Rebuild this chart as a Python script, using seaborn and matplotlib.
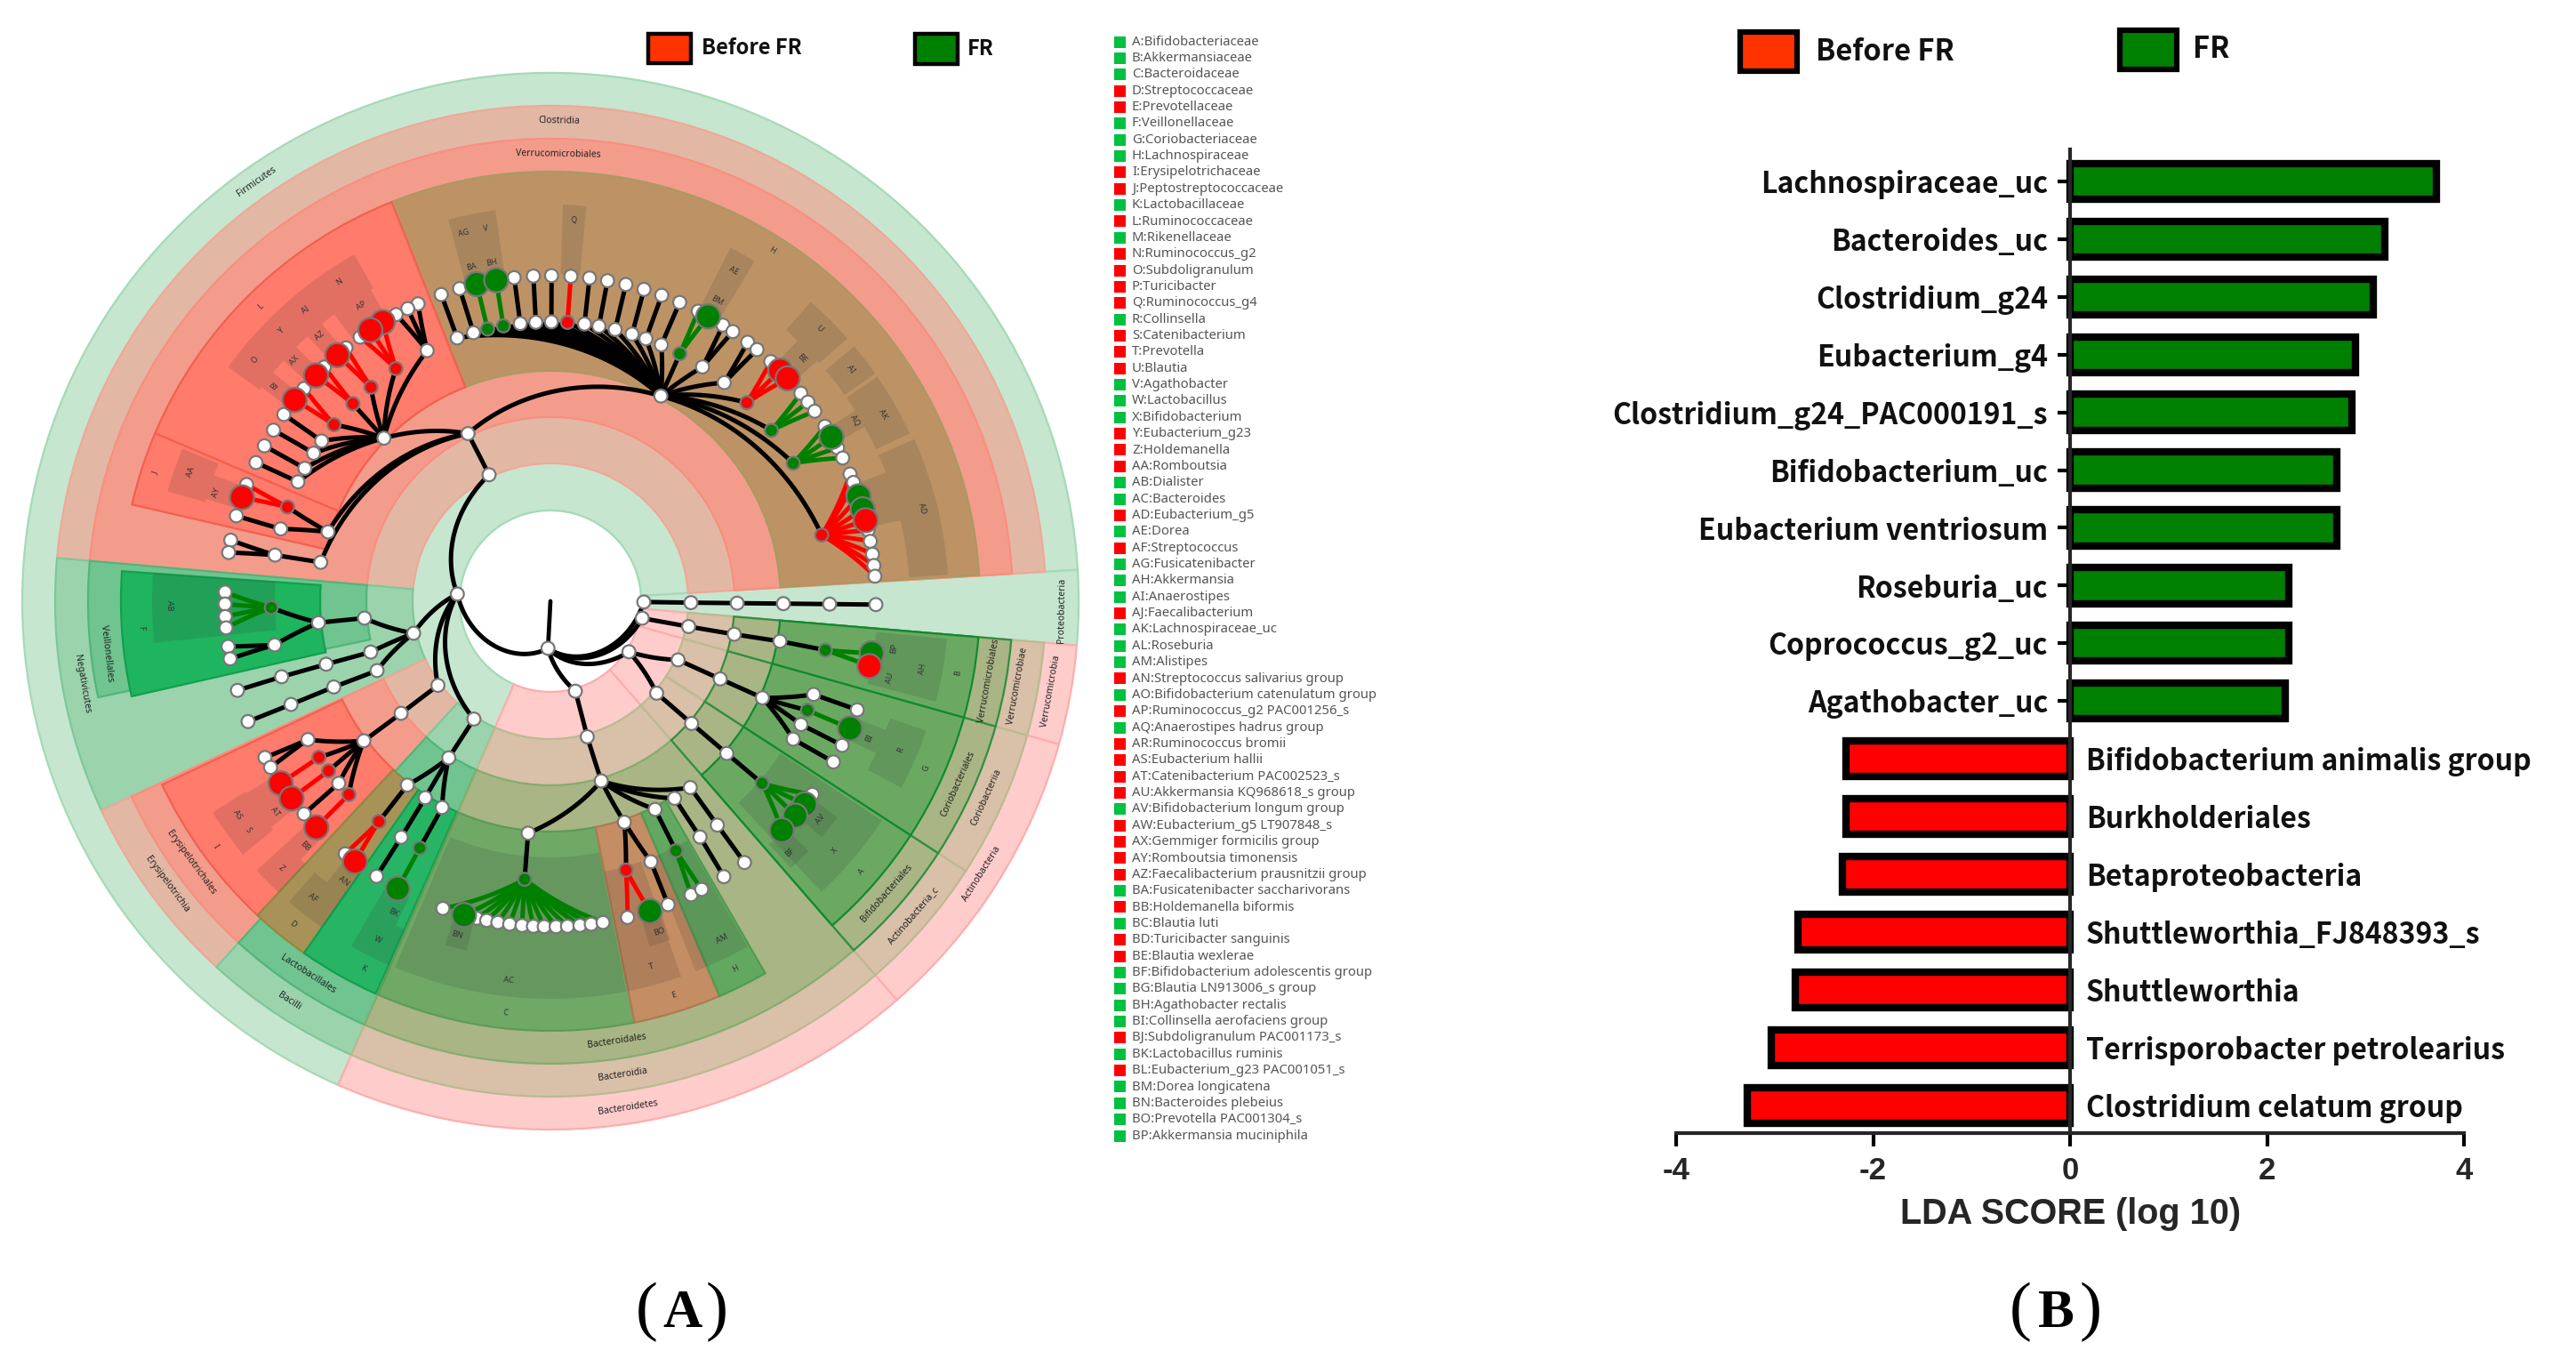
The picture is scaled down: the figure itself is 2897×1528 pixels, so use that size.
import numpy as np
import pandas as pd
import seaborn as sns
import matplotlib
matplotlib.use("Agg")
import matplotlib.pyplot as plt
from matplotlib.patches import Rectangle, Wedge
from matplotlib.transforms import Affine2D

# ================= BAR PANEL DATA =================

fr_taxa = ["Lachnospiraceae_uc", "Bacteroides_uc", "Clostridium_g24", "Eubacterium_g4",
           "Clostridium_g24_PAC000191_s", "Bifidobacterium_uc", "Eubacterium ventriosum",
           "Roseburia_uc", "Coprococcus_g2_uc", "Agathobacter_uc"]
fr_scores = [3.72, 3.20, 3.08, 2.90, 2.86, 2.71, 2.71, 2.22, 2.22, 2.18]

before_taxa = ["Bifidobacterium animalis group", "Burkholderiales", "Betaproteobacteria",
               "Shuttleworthia_FJ848393_s", "Shuttleworthia", "Terrisporobacter petrolearius",
               "Clostridium celatum group"]
before_scores = [-2.28, -2.28, -2.31, -2.76, -2.79, -3.03, -3.28]

x_ticks = [-4, -2, 0, 2, 4]

# ================= KEY DATA =================

key_names = [
    "A:Bifidobacteriaceae", "B:Akkermansiaceae", "C:Bacteroidaceae", "D:Streptococcaceae",
    "E:Prevotellaceae", "F:Veillonellaceae", "G:Coriobacteriaceae", "H:Lachnospiraceae",
    "I:Erysipelotrichaceae", "J:Peptostreptococcaceae", "K:Lactobacillaceae", "L:Ruminococcaceae",
    "M:Rikenellaceae", "N:Ruminococcus_g2", "O:Subdoligranulum", "P:Turicibacter",
    "Q:Ruminococcus_g4", "R:Collinsella", "S:Catenibacterium", "T:Prevotella", "U:Blautia",
    "V:Agathobacter", "W:Lactobacillus", "X:Bifidobacterium", "Y:Eubacterium_g23", "Z:Holdemanella",
    "AA:Romboutsia", "AB:Dialister", "AC:Bacteroides", "AD:Eubacterium_g5", "AE:Dorea",
    "AF:Streptococcus", "AG:Fusicatenibacter", "AH:Akkermansia", "AI:Anaerostipes",
    "AJ:Faecalibacterium", "AK:Lachnospiraceae_uc", "AL:Roseburia", "AM:Alistipes",
    "AN:Streptococcus salivarius group", "AO:Bifidobacterium catenulatum group",
    "AP:Ruminococcus_g2 PAC001256_s", "AQ:Anaerostipes hadrus group", "AR:Ruminococcus bromii",
    "AS:Eubacterium hallii", "AT:Catenibacterium PAC002523_s", "AU:Akkermansia KQ968618_s group",
    "AV:Bifidobacterium longum group", "AW:Eubacterium_g5 LT907848_s", "AX:Gemmiger formicilis group",
    "AY:Romboutsia timonensis", "AZ:Faecalibacterium prausnitzii group",
    "BA:Fusicatenibacter saccharivorans", "BB:Holdemanella biformis", "BC:Blautia luti",
    "BD:Turicibacter sanguinis", "BE:Blautia wexlerae", "BF:Bifidobacterium adolescentis group",
    "BG:Blautia LN913006_s group", "BH:Agathobacter rectalis", "BI:Collinsella aerofaciens group",
    "BJ:Subdoligranulum PAC001173_s", "BK:Lactobacillus ruminis", "BL:Eubacterium_g23 PAC001051_s",
    "BM:Dorea longicatena", "BN:Bacteroides plebeius", "BO:Prevotella PAC001304_s",
    "BP:Akkermansia muciniphila",
]
key_groups = "gggrrgggrrgrgrrrrgrrrgggrrrggrgrgggrgggrgrgrrrrgrrrrgrgrrggggrgrgggg"

# ================= CLADOGRAM DATA (angles in degrees) =================

phyla = [("Firmicutes", 175.6), ("Bacteroidetes", -74.5), ("Actinobacteria", -32.8),
         ("Verrucomicrobia", -10.5), ("Proteobacteria", -0.5)]

classes = [("Clostridia", "Firmicutes", 115.9), ("Negativicutes", "Firmicutes", 193.2),
           ("Erysipelotrichia", "Firmicutes", 216.8), ("Bacilli", "Firmicutes", 237.0),
           ("Bacteroidia", "Bacteroidetes", -74.8), ("Actinobacteria_c", "Actinobacteria", -40.9),
           ("Coriobacteriia", "Actinobacteria", -24.7), ("Verrucomicrobiae", "Verrucomicrobia", -10.4),
           ("Betaproteobacteria", "Proteobacteria", -0.6)]

orders = [("Clostridiales", "Clostridia", 116.2), ("Veillonellales", "Negativicutes", 185.2),
          ("Negativi_o2", "Negativicutes", 195.8), ("Negativi_o3", "Negativicutes", 201.8),
          ("Erysipelotrichales", "Erysipelotrichia", 216.9), ("Lactobacillales", "Bacilli", 237.0),
          ("Bacteroidales", "Bacteroidia", -74.2), ("Bifidobacteriales", "Actinobacteria_c", -40.9),
          ("Coriobacteriales", "Coriobacteriia", -24.6), ("Verrucomicrobiales", "Verrucomicrobiae", -10.2),
          ("Burkholderiales", "Betaproteobacteria", -0.6)]

families = [("Lachnospiraceae", "Clostridiales", 61.7), ("Ruminococcaceae", "Clostridiales", 135.6),
            ("Peptostreptococcaceae", "Clostridiales", 162.7), ("Clostridiaceae", "Clostridiales", 170.4),
            ("Veillonellaceae", "Veillonellales", 185.3), ("Negativi_f2", "Negativi_o2", 195.7),
            ("Negativi_f3", "Negativi_o3", 201.6), ("Erysipelotrichaceae", "Erysipelotrichales", 216.8),
            ("Streptococcaceae", "Lactobacillales", 232.1), ("Carnobacteriaceae", "Lactobacillales", 237.5),
            ("Lactobacillaceae", "Lactobacillales", 242.3), ("Bacteroidaceae", "Bacteroidales", -95.5),
            ("Prevotellaceae", "Bacteroidales", -71.5), ("Rikenellaceae", "Bacteroidales", -63.3),
            ("Porphyromonadaceae", "Bacteroidales", -57.8), ("Barnesiellaceae", "Bacteroidales", -53.1),
            ("Bifidobacteriaceae", "Bifidobacteriales", -40.8), ("Coriobacteriaceae", "Coriobacteriales", -24.5),
            ("Akkermansiaceae", "Verrucomicrobiales", -9.9), ("Sutterellaceae", "Burkholderiales", -0.6)]

# family, genus angle, genus state, species angles
genera = [
    ("Lachnospiraceae", 109.5, "w", [109.6]), ("Lachnospiraceae", 106.0, "w", [106.2]),
    ("Lachnospiraceae", 103.0, "g", [103.1]), ("Lachnospiraceae", 99.7, "g", [99.6]),
    ("Lachnospiraceae", 96.2, "w", [96.4]), ("Lachnospiraceae", 93.0, "w", [93.0]),
    ("Lachnospiraceae", 89.8, "w", [89.8]), ("Lachnospiraceae", 86.5, "r", [86.4]),
    ("Lachnospiraceae", 83.0, "w", [83.1]), ("Lachnospiraceae", 80.0, "w", [79.9]),
    ("Lachnospiraceae", 76.6, "w", [76.6]), ("Lachnospiraceae", 73.0, "w", [73.3]),
    ("Lachnospiraceae", 70.0, "w", [70.0]), ("Lachnospiraceae", 66.6, "w", [66.6]),
    ("Lachnospiraceae", 62.4, "g", [63.0, 61.0]), ("Lachnospiraceae", 57.0, "w", [58.0, 55.9]),
    ("Lachnospiraceae", 51.5, "w", [52.7, 50.6]), ("Lachnospiraceae", 45.3, "r", [47.4, 45.1, 43.2]),
    ("Lachnospiraceae", 37.7, "g", [39.7, 37.7, 35.7]),
    ("Lachnospiraceae", 29.6, "g", [32.5, 30.3, 28.1, 26.1]),
    ("Lachnospiraceae", 13.7, "r", [23.0, 21.4, 18.8, 16.4, 14.4, 12.6, 10.6, 8.3, 6.3, 4.4]),
    ("Ruminococcaceae", 116.2, "w", [114.0, 116.0, 118.3]), ("Ruminococcaceae", 123.6, "r", [121.0, 123.6, 125.8]),
    ("Ruminococcaceae", 130.0, "r", [128.9, 130.9]), ("Ruminococcaceae", 135.0, "r", [134.0, 136.1]),
    ("Ruminococcaceae", 140.8, "r", [139.2, 141.8]), ("Ruminococcaceae", 145.0, "w", [145.0]),
    ("Ruminococcaceae", 148.0, "w", [148.3]), ("Ruminococcaceae", 151.6, "w", [151.5]),
    ("Ruminococcaceae", 154.7, "w", [154.8]),
    ("Peptostreptococcaceae", 160.3, "r", [159.0, 161.4]), ("Peptostreptococcaceae", 165.0, "w", [164.8]),
    ("Clostridiaceae", 170.5, "w", [169.2, 171.4]),
    ("Veillonellaceae", 181.3, "g", [178.4, 180.5, 182.7, 184.7]), ("Veillonellaceae", 189.0, "w", [188.0, 190.2]),
    ("Negativi_f2", 195.7, "w", [195.9]), ("Negativi_f3", 201.7, "w", [201.7]),
    ("Erysipelotrichaceae", 209.7, "w", [208.7, 210.7]), ("Erysipelotrichaceae", 214.0, "r", [214.0]),
    ("Erysipelotrichaceae", 217.4, "r", [217.3]), ("Erysipelotrichaceae", 220.7, "w", [220.8]),
    ("Erysipelotrichaceae", 223.8, "r", [224.0]),
    ("Streptococcaceae", 232.1, "r", [230.9, 233.1]), ("Carnobacteriaceae", 237.7, "w", [237.7]),
    ("Lactobacillaceae", 242.1, "g", [242.0]),
    ("Bacteroidaceae", -95.3, "g", [250.7, 254.6, 256.9, 258.7, 260.7, 262.8, 265.0, 267.0, 268.9,
                                    271.0, 273.0, 275.2, 277.2, 279.3]),
    ("Prevotellaceae", -74.3, "r", [-76.3, -72.2]), ("Prevotellaceae", -68.9, "w", [-68.8]),
    ("Rikenellaceae", -63.3, "g", [-64.4, -62.3]), ("Porphyromonadaceae", -57.6, "w", [-57.8]),
    ("Barnesiellaceae", -53.3, "w", [-53.4]),
    ("Bifidobacteriaceae", -40.7, "g", [-36.4, -38.6, -41.2, -44.7]),
    ("Coriobacteriaceae", -19.5, "w", [-19.5]), ("Coriobacteriaceae", -23.0, "g", [-23.0]),
    ("Coriobacteriaceae", -26.2, "w", [-26.3]), ("Coriobacteriaceae", -29.6, "w", [-29.6]),
    ("Akkermansiaceae", -10.1, "g", [-9.2, -11.5]), ("Sutterellaceae", -0.6, "w", [-0.6]),
]

big_green = [103.1, 99.6, 61.0, 30.3, 18.8, 16.4, -9.2, -38.6, -41.2, -44.7, 254.6, -72.2, 242.0, -23.0]
big_red = [121.0, 123.6, 130.9, 136.1, 141.8, 161.4, 45.1, 43.2, 14.4, 214.0, 217.3, 224.0, 233.1, -11.5]

# a0, a1, colour, boundary colour
phylum_sectors = [(3.4, 246.3, "#c6e6d0", "#a5dab6"), (-4.8, 3.4, "#c6e6d0", "#a5dab6"),
                  (246.3, 311.0, "#ffcccc", "#ffacac"), (-49.0, -15.7, "#ffcccc", "#ffacac"),
                  (-15.7, -4.8, "#ffcccc", "#ffacac")]
class_sectors = [(3.4, 175.0, "#e2b8a5", "#f0a897"), (175.0, 205.0, "#9bd3ad", "#7fc798"),
                 (205.0, 227.6, "#e2b8a5", "#f0a897"), (227.6, 246.3, "#9bd3ad", "#7fc798"),
                 (246.3, 311.0, "#d9c0a8", "#b9bb90"), (-49.0, -33.0, "#d9c0a8", "#b9bb90"),
                 (-33.0, -15.7, "#d9c0a8", "#b9bb90"), (-15.7, -4.8, "#d9c0a8", "#b9bb90")]
order_sectors = [(3.4, 175.0, "#f49c8b", "#f98f7e"), (175.0, 192.0, "#6fc48f", "#50b679"),
                 (205.0, 227.6, "#f49c8b", "#f98f7e"), (227.6, 246.3, "#6fc48f", "#50b679"),
                 (246.3, 311.0, "#a9b584", "#84ad70"), (-49.0, -33.0, "#a9b584", "#2f8f3f"),
                 (-33.0, -15.7, "#a9b584", "#2f8f3f"), (-15.7, -4.8, "#a9b584", "#2f8f3f")]
family_sectors = [(3.5, 111.7, "#bd9366", "#a99a62"), (111.7, 157.0, "#ff7b6c", "#f2604f"),
                  (157.0, 167.0, "#ff7b6c", "#f2604f"), (176.0, 192.8, "#1fb45e", "#12a04e"),
                  (205.3, 227.0, "#ff7b6c", "#f2604f"), (227.0, 235.0, "#a89258", "#8f8a40"),
                  (235.0, 246.0, "#28b465", "#12a04e"), (246.3, 281.3, "#70a866", "#5c9c58"),
                  (281.3, 293.2, "#c48d63", "#b07a50"), (293.2, 300.0, "#62a860", "#4f9c50"),
                  (-49.0, -33.0, "#6ba963", "#0f8a2f"), (-33.0, -15.7, "#6ba963", "#0f8a2f"),
                  (-15.7, -4.8, "#6ba963", "#0f8a2f")]

# a0, a1, r0, r1
taxon_blocks = [(101.5, 105.0, 404, 444), (98.0, 101.5, 404, 444), (101.5, 105.0, 368, 404), (98.0, 101.5, 368, 404),
                (84.8, 88.2, 368, 446), (59.0, 63.0, 368, 404), (59.0, 63.0, 404, 446), (41.5, 49.0, 404, 446),
                (42.0, 46.5, 368, 404), (35.0, 40.0, 404, 446), (25.0, 34.5, 404, 446), (29.0, 32.0, 368, 404),
                (3.8, 24.0, 404, 448), (13.0, 21.0, 368, 404), (119.5, 127.5, 404, 448), (127.5, 133.0, 404, 448),
                (133.0, 138.5, 404, 448), (138.5, 144.0, 404, 448), (120.0, 124.0, 368, 404), (124.0, 127.0, 368, 404),
                (129.5, 132.5, 368, 404), (135.0, 138.0, 368, 404), (140.5, 143.5, 368, 404), (157.5, 164.0, 404, 448),
                (159.5, 163.5, 368, 404), (176.0, 186.0, 310, 448), (212.0, 216.0, 404, 448), (216.0, 219.5, 404, 448),
                (222.5, 227.0, 404, 448), (212.3, 216.0, 368, 404), (216.0, 219.0, 368, 404), (222.5, 226.0, 368, 404),
                (229.0, 235.0, 404, 448), (231.5, 235.0, 368, 404), (240.0, 246.0, 404, 448), (240.0, 244.5, 368, 404),
                (247.0, 281.0, 288, 447), (253.0, 256.5, 368, 404), (-78.8, -70.8, 310, 447), (-74.0, -70.5, 368, 404),
                (-68.6, -60.3, 310, 447), (-47.0, -33.5, 310, 447), (-48.0, -44.0, 368, 404), (-41.0, -37.0, 368, 404),
                (-28.0, -19.0, 404, 447), (-25.0, -21.0, 368, 404), (-14.6, -5.4, 404, 448), (-10.0, -5.4, 368, 404),
                (-14.6, -10.0, 368, 404)]

# text, angle, radius
band_labels = [("Firmicutes", 125.0, 576), ("Clostridia", 89.0, 540), ("Verrucomicrobiales", 89.0, 503),
               ("Negativicutes", 190.0, 535), ("Veillonellales", 186.7, 502), ("Erysipelotrichia", 216.4, 536),
               ("Erysipelotrichales", 216.0, 500), ("Lactobacillales", 237.0, 500), ("Bacilli", 236.8, 537),
               ("Bacteroidales", -81.4, 500), ("Bacteroidia", -81.3, 538), ("Bacteroidetes", -81.3, 576),
               ("Bifidobacteriales", -41.0, 501), ("Actinobacteria_c", -40.9, 540), ("Actinobacteria", -32.3, 574),
               ("Coriobacteriales", -24.1, 502), ("Coriobacteriia", -24.2, 538), ("Verrucomicrobiales", -10.3, 501),
               ("Verrucomicrobiae", -10.3, 534), ("Verrucomicrobia", -10.2, 572), ("Proteobacteria", -1.0, 575)]

letter_labels = [("AG", 103.3, 425), ("V", 99.8, 425), ("BA", 103.3, 386), ("BH", 99.8, 386), ("Q", 86.5, 430),
                 ("AE", 61.0, 425), ("BM", 61.0, 386), ("U", 45.4, 430), ("BE", 44.0, 393), ("AI", 37.7, 427),
                 ("AK", 29.3, 429), ("AQ", 30.7, 398), ("AD", 14.0, 431), ("H", 57.7, 467), ("L", 134.5, 465),
                 ("N", 123.5, 431), ("AP", 122.6, 394), ("AJ", 130.0, 429), ("AZ", 131.0, 395), ("Y", 135.0, 429),
                 ("AX", 136.8, 395), ("O", 140.7, 429), ("BJ", 142.0, 394), ("J", 162.0, 467), ("AA", 160.3, 430),
                 ("AY", 162.0, 395), ("F", 183.7, 461), ("AB", 180.7, 428), ("I", 216.2, 466), ("Z", 224.8, 426),
                 ("BB", 224.9, 390), ("AS", 214.3, 426), ("S", 217.1, 426), ("AT", 217.4, 390), ("D", 231.4, 465),
                 ("AF", 231.2, 427), ("AN", 233.6, 391), ("K", 243.0, 464), ("W", 243.0, 427), ("BK", 243.3, 392),
                 ("C", 263.8, 465), ("AC", 263.7, 429), ("BN", 254.4, 390), ("E", -72.6, 464), ("T", -74.6, 426),
                 ("BO", -71.7, 391), ("H", -63.3, 463), ("AM", -63.0, 426), ("A", -41.0, 464), ("X", -41.2, 425),
                 ("BF", -46.4, 390), ("AV", -39.0, 390), ("G", -24.0, 463), ("R", -23.0, 428), ("BI", -23.3, 390),
                 ("B", -10.0, 465), ("AH", -10.3, 425), ("BP", -7.8, 390), ("AU", -12.7, 391)]

level_radius = {"root": 53, "phylum": 105, "class": 158, "order": 210, "family": 262, "genus": 314, "species": 366}

# ================= FIGURE =================

sns.set_theme(style="white")
plt.rcParams["font.family"] = ["Noto Sans", "DejaVu Sans"]
bold_font = ["Noto Sans CJK KR", "DejaVu Sans"]

W, H = 2897, 1528
fig = plt.figure(figsize=(W / 100 + 0.001, H / 100 + 0.001), dpi=100, facecolor="white")
pix = Affine2D().scale(1, -1).translate(0, H)

# ================= CLADOGRAM =================

cx, cy = 619, 676
ax_tree = fig.add_axes([0, 0, 1700 / W, 1])
ax_tree.set_xlim(-cx, 1700 - cx)
ax_tree.set_ylim(cy - H, cy)
ax_tree.axis("off")


def polar(angle, radius):
    rad = np.deg2rad(angle)
    return radius * np.cos(rad), radius * np.sin(rad)


def draw_sectors(rows, r0, r1):
    for a0, a1, color, edge in rows:
        ax_tree.add_patch(Wedge((0, 0), r1, a0, a1, width=r1 - r0, facecolor=color, edgecolor=edge, linewidth=1.6))


draw_sectors(phylum_sectors, 102, 594)
draw_sectors(class_sectors, 155, 557)
draw_sectors(order_sectors, 207, 520)
draw_sectors(family_sectors, 259, 483)

for a0, a1, r0, r1 in taxon_blocks:
    ax_tree.add_patch(Wedge((0, 0), r1, a0, a1, width=r1 - r0, facecolor="#303030", alpha=0.14, edgecolor="none"))


def tangent_text(text, angle, radius, size, color="#222222"):
    a = (angle + 180) % 360 - 180
    rotation = a - 90 if a > 0 else a + 90
    x, y = polar(angle, radius)
    ax_tree.text(x, y, text, fontsize=size, rotation=rotation, rotation_mode="anchor",
                 ha="center", va="center", color=color, zorder=3)


for text, angle, radius in band_labels:
    tangent_text(text, angle, radius, 7.5)
for text, angle, radius in letter_labels:
    tangent_text(text, angle, radius, 6.5, "#333333")


def draw_edge(a0, r0, a1, r1, color):
    turn = (a1 - a0 + 180) % 360 - 180
    angles = a0 + turn * np.linspace(0, 1, 40)
    radii = r0 + (r1 - r0) * np.linspace(0, 1, 40)
    x, y = polar(angles, radii)
    ax_tree.plot(x, y, color=color, lw=3.6, solid_capstyle="round", zorder=4)


edge_colors = {"w": "black", "g": "#008000", "r": "#ff0000"}
node_rows = []


def add_node(angle, level, state, size="small"):
    x, y = polar(angle, level_radius[level])
    node_rows.append({"x": x, "y": y, "state": state, "size": size})


# root sits low in the hole, with a short stem up to the centre
root_angle = -93.0
ax_tree.plot(*polar(np.array([root_angle, root_angle]), np.array([0, level_radius["root"]])),
             color="black", lw=3.4, zorder=4)
add_node(root_angle, "root", "w")

angle_of = {}
for name, angle in phyla:
    angle_of[name] = angle
    draw_edge(root_angle, level_radius["root"], angle, level_radius["phylum"], "black")
    add_node(angle, "phylum", "w")

for rows, level, up in [(classes, "class", "phylum"), (orders, "order", "class"), (families, "family", "order")]:
    for name, parent, angle in rows:
        angle_of[name] = angle
        draw_edge(angle_of[parent], level_radius[up], angle, level_radius[level], "black")
        add_node(angle, level, "w")

for family, genus_angle, state, species in genera:
    draw_edge(angle_of[family], level_radius["family"], genus_angle, level_radius["genus"], "black")
    for angle in species:
        draw_edge(genus_angle, level_radius["genus"], angle, level_radius["species"], edge_colors[state])

for family, genus_angle, state, species in genera:
    add_node(genus_angle, "genus", state)
    for angle in species:
        if angle in big_green:
            add_node(angle, "species", "g", "big")
        elif angle in big_red:
            add_node(angle, "species", "r", "big")
        else:
            add_node(angle, "species", "w")

nodes = pd.DataFrame(node_rows).sort_values("size", ascending=False, kind="stable")
sns.scatterplot(data=nodes, x="x", y="y", hue="state", size="size",
                palette={"w": "white", "g": "#008000", "r": "#ff0000"},
                sizes={"small": 112, "big": 380}, edgecolor="#777777", linewidth=1.6,
                legend=False, ax=ax_tree, zorder=5)
ax_tree.set_xlim(-cx, 1700 - cx)
ax_tree.set_ylim(cy - H, cy)

# ================= KEY LIST =================

for i, (name, group) in enumerate(zip(key_names, key_groups)):
    y = 47 + i * (1277 - 47) / (len(key_names) - 1)
    fig.add_artist(Rectangle((1253, y - 6.5), 13, 13, transform=pix,
                             facecolor="#00c040" if group == "g" else "#ff0000", edgecolor="none"))
    fig.text(1273, y, name, transform=pix, fontsize=10.7, color="#555555", ha="left", va="center")


def legend_item(x, y, w, h, color, label, tx, ty, size, lw):
    fig.add_artist(Rectangle((x, y), w, h, transform=pix, facecolor=color, edgecolor="black", linewidth=lw))
    fig.text(tx, ty, label, transform=pix, family=bold_font, fontsize=size, fontweight="bold",
             ha="left", va="center", color="#111111")


legend_item(729, 38, 48, 33, "#ff3300", "Before FR", 789, 54, 17, 3.2)
legend_item(1029, 38, 48, 34, "#008000", "FR", 1088, 55, 17, 3.2)
legend_item(1957, 36, 64, 44, "#ff3300", "Before FR", 2042, 58, 23.5, 4.5)
legend_item(2384, 34, 64, 44, "#008000", "FR", 2466, 55, 23.5, 4.5)

# ================= LDA BARS =================

taxa = fr_taxa + before_taxa
scores = fr_scores + before_scores
bars = pd.DataFrame({
    "taxon": taxa,
    "score": scores,
    "group": ["FR"] * len(fr_taxa) + ["Before FR"] * len(before_taxa),
})

ax_left, ax_right, ax_top, ax_bottom = 1885, 2771, 168, 1274
ax_bar = fig.add_axes([ax_left / W, 1 - ax_bottom / H, (ax_right - ax_left) / W, (ax_bottom - ax_top) / H])

sns.barplot(data=bars, x="score", y="taxon", hue="group", order=taxa, dodge=False,
            palette={"FR": "#008000", "Before FR": "#ff0000"}, saturation=1, width=0.62,
            edgecolor="black", linewidth=6, legend=False, ax=ax_bar)

ax_bar.set_facecolor("none")
ax_bar.set_xlim(-4, 4)
ax_bar.set_ylim(16.48, -0.554)
sns.despine(ax=ax_bar, top=True, right=True)
ax_bar.spines["left"].set_position(("data", 0))
ax_bar.spines["left"].set_linewidth(3)
ax_bar.spines["bottom"].set_linewidth(3)

ax_bar.set_xticks(x_ticks)
ax_bar.set_xticklabels([str(v) for v in x_ticks], family="Liberation Sans", fontweight="bold", fontsize=25)
ax_bar.tick_params(axis="x", direction="out", length=11, width=3, bottom=True, pad=8, color="black")
ax_bar.tick_params(axis="y", direction="out", length=10, width=3, left=True, pad=8, color="black", labelsize=23.1)
ax_bar.set_yticks(range(len(taxa)))
ax_bar.set_yticklabels(taxa, family=bold_font, fontweight="bold", color="#111111")
ax_bar.set_ylabel("")
ax_bar.set_xlabel("LDA SCORE (log 10)", family="Liberation Sans", fontweight="bold", fontsize=28.5, labelpad=9)

# FR labels stay left of the axis, Before FR labels go to its right
for tick, score in zip(ax_bar.yaxis.get_major_ticks(), scores):
    if score < 0:
        tick.set_pad(-23)
        tick.label1.set_ha("left")

# ================= PANEL LETTERS =================

for letter, x in [("A", 767), ("B", 2312)]:
    fig.text(x, 1477, letter, transform=pix, family="Liberation Serif", fontsize=44,
             fontweight="bold", ha="center", va="center", color="black")
    fig.text(x - 27, 1475, "(", transform=pix, family="Liberation Serif", fontsize=54,
             ha="right", va="center", color="black")
    fig.text(x + 27, 1475, ")", transform=pix, family="Liberation Serif", fontsize=54,
             ha="left", va="center", color="black")

fig.savefig("out.png", dpi=100, facecolor="white")
